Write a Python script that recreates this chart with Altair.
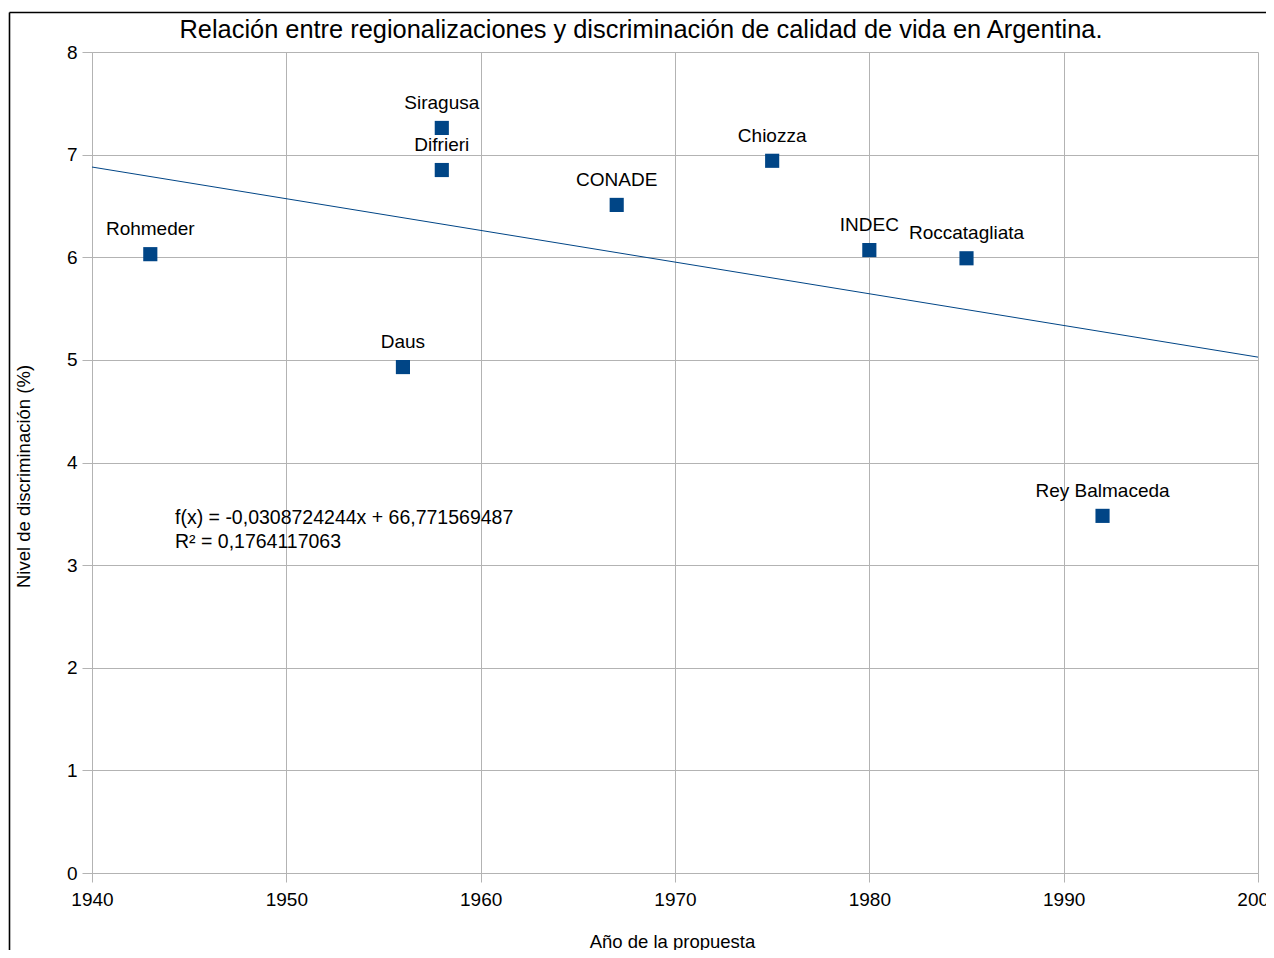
import altair as alt
import pandas as pd

# Data
names = ["Rohmeder", "Daus", "Siragusa", "Difrieri", "CONADE", "Chiozza",
         "INDEC", "Roccatagliata", "Rey Balmaceda"]
years = [1943, 1956, 1958, 1958, 1967, 1975, 1980, 1985, 1992]
levels = [6.03, 4.93, 7.26, 6.85, 6.51, 6.94, 6.07, 5.99, 3.48]

slope = -0.0308724244
intercept = 66.771569487
trend_x = [1940, 2000]
eq_line1 = "f(x) = -0,0308724244x + 66,771569487"
eq_line2 = "R² = 0,1764117063"

title_text = "Relación entre regionalizaciones y discriminación de calidad de vida en Argentina."

FONT = "Liberation Sans"
BLUE = "#004586"
GRID = "#b3b3b3"

pts = pd.DataFrame({"name": names, "year": years, "level": levels})
trend = pd.DataFrame({"year": trend_x, "level": [slope * x + intercept for x in trend_x]})

xscale = alt.Scale(domain=[1940, 2000], nice=False, zero=False)
yscale = alt.Scale(domain=[0, 8], nice=False)

xaxis = alt.Axis(title="Año de la propuesta", values=list(range(1940, 2001, 10)), format="d",
                 grid=True, gridColor=GRID, domainColor=GRID, tickColor=GRID, tickSize=9,
                 labelFont=FONT, labelFontSize=19, labelColor="#000", labelPadding=8,
                 labelFlush=False, labelOverlap=False,
                 titleFont=FONT, titleFontSize=18.5, titleFontWeight="normal", titleColor="#000",
                 titleBaseline="middle", titleY=68, titleX=580)
yaxis = alt.Axis(title="Nivel de discriminación (%)", values=list(range(0, 9)), format="d",
                 grid=True, gridColor=GRID, domainColor=GRID, tickColor=GRID, tickSize=10,
                 labelFont=FONT, labelFontSize=19, labelColor="#000", labelPadding=5,
                 labelFlush=False,
                 titleFont=FONT, titleFontSize=18.5, titleFontWeight="normal", titleColor="#000",
                 titleBaseline="middle", titleAngle=-90, titleX=-69, titleY=424)

base = alt.Chart(pts)

points = base.mark_square(size=200, color=BLUE, opacity=1).encode(
    x=alt.X("year:Q", scale=xscale, axis=xaxis),
    y=alt.Y("level:Q", scale=yscale, axis=yaxis),
)

labels = base.mark_text(font=FONT, fontSize=19, dy=-25, baseline="middle", align="center",
                        color="#000").encode(
    x=alt.X("year:Q", scale=xscale),
    y=alt.Y("level:Q", scale=yscale),
    text="name:N",
)

line = alt.Chart(trend).mark_line(color=BLUE, strokeWidth=1).encode(
    x=alt.X("year:Q", scale=xscale),
    y=alt.Y("level:Q", scale=yscale),
)

one = pd.DataFrame({"a": [0]})

eq1 = alt.Chart(one).mark_text(font=FONT, fontSize=19.5, align="left", baseline="middle",
                               color="#000", text=eq_line1).encode(
    x=alt.value(83), y=alt.value(466))
eq2 = alt.Chart(one).mark_text(font=FONT, fontSize=19.5, align="left", baseline="middle",
                               color="#000", text=eq_line2).encode(
    x=alt.value(83), y=alt.value(490))

title = alt.Chart(one).mark_text(
    font=FONT, fontSize=25.4, align="center", baseline="middle", color="#000",
    text=title_text).encode(x=alt.value(549), y=alt.value(-22))

frame_top = alt.Chart(one).mark_rule(color="#000", strokeWidth=1.6).encode(
    x=alt.value(-82.5), x2=alt.value(1200), y=alt.value(-39.5))
frame_left = alt.Chart(one).mark_rule(color="#000", strokeWidth=1.6).encode(
    x=alt.value(-82.5), y=alt.value(-39.5), y2=alt.value(920))

chart = alt.layer(line, points, labels, eq1, eq2, title, frame_top, frame_left).properties(
    width=1166, height=821,
    autosize=alt.AutoSizeParams(type="none"),
    padding={"left": 84, "top": 44, "right": 8, "bottom": 77},
    background="white",
).configure_view(stroke=None)

chart.save("out.html", embed_options={"renderer": "svg", "actions": False})
